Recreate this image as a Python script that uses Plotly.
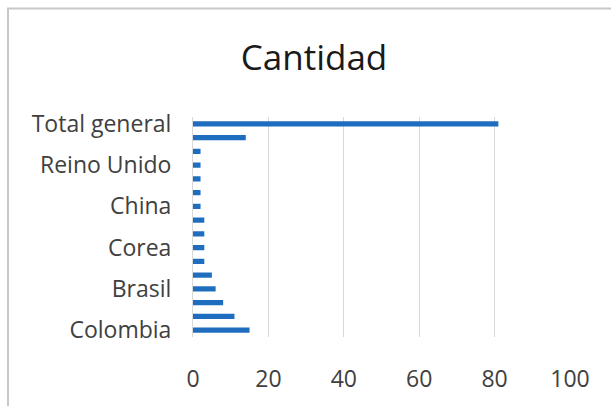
import plotly.graph_objects as go

# Pivot counts per country, bottom-to-top order as listed
paises = [
    "Colombia", "Estados Unidos", "México", "Brasil", "España",
    "Alemania", "Corea", "Japón", "Francia", "China",
    "Italia", "Chile", "Reino Unido", "Perú", "(en blanco)", "Total general",
]
cantidad = [15, 11, 8, 6, 5, 3, 3, 3, 3, 2, 2, 2, 2, 2, 14, 81]

# Only every third category label is printed on the axis
etiquetas = ["Colombia", "Brasil", "Corea", "China", "Reino Unido", "Total general"]
x_ticks = [0, 20, 40, 60, 80, 100]

W, H = 611, 406
L, R, T, B = 193, 41, 117, 66
pw, ph = W - L - R, H - T - B

def px_to_paper_x(px):
    return (px - L) / pw

def px_to_paper_y(py):
    return (H - B - py) / ph

FONT = "Open Sans, Calibri, sans-serif"

fig = go.Figure(
    go.Bar(
        x=cantidad,
        y=paises,
        orientation="h",
        marker=dict(color="#1f6dbf", line=dict(width=0)),
        hoverinfo="x+y",
    )
)

fig.update_layout(
    width=W,
    height=H,
    margin=dict(l=L, r=R, t=T, b=B),
    paper_bgcolor="white",
    plot_bgcolor="white",
    bargap=0.62,
    showlegend=False,
    font=dict(family=FONT, color="#404040"),
    title=dict(
        text="Cantidad",
        x=px_to_paper_x(314),
        xref="paper",
        xanchor="center",
        y=1 - 58 / H,
        yref="container",
        yanchor="middle",
        font=dict(family=FONT, size=35, color="#1a1a1a"),
    ),
    xaxis=dict(
        range=[0, 100],
        tickvals=x_ticks,
        ticktext=[str(v) for v in x_ticks],
        showgrid=True,
        gridcolor="#d9d9d9",
        gridwidth=1,
        zeroline=False,
        showline=False,
        ticks="",
        ticklabelstandoff=26,
        tickfont=dict(size=23, color="#404040"),
        fixedrange=True,
    ),
    yaxis=dict(
        categoryorder="array",
        categoryarray=paises,
        tickmode="array",
        tickvals=etiquetas,
        ticktext=etiquetas,
        showgrid=False,
        showline=True,
        linecolor="#d9d9d9",
        linewidth=1,
        ticks="",
        ticklabelstandoff=16,
        tickfont=dict(size=23, color="#404040"),
        fixedrange=True,
    ),
    shapes=[
        dict(
            type="rect",
            xref="paper",
            yref="paper",
            x0=px_to_paper_x(8),
            x1=px_to_paper_x(W + 40),
            y0=px_to_paper_y(H + 40),
            y1=px_to_paper_y(7),
            line=dict(color="#c8c8c8", width=2),
            fillcolor="rgba(0,0,0,0)",
            layer="below",
        )
    ],
)

fig.write_html("out.html")
